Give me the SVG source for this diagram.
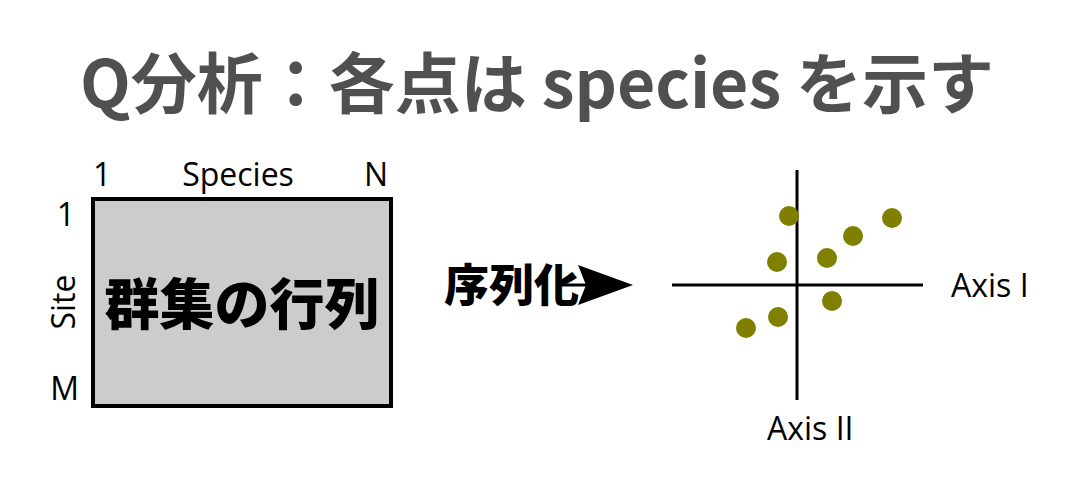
<svg xmlns="http://www.w3.org/2000/svg" width="1076" height="492" viewBox="0 0 1076 492">
<style>
.lbl{font-family:"Open Sans","Noto Sans",sans-serif;font-size:32px;fill:#000}
.dot{fill:#808000}
.ax{stroke:#000;stroke-width:3}
</style>
<rect width="1076" height="492" fill="#fff"/>
<text id="title" x="537" y="108" text-anchor="middle" font-family="'Noto Sans CJK JP',sans-serif" font-weight="bold" font-size="66" fill="#505050">Q分析：各点は species を示す</text>
<g id="matrix">
<rect x="93" y="199" width="298" height="207" fill="#cccccc" stroke="#000" stroke-width="4"/>
<text x="242" y="324" text-anchor="middle" font-family="'Noto Sans CJK JP',sans-serif" font-weight="900" font-size="55" fill="#000">群集の行列</text>
<text class="lbl" x="93" y="186">1</text>
<text class="lbl" x="238" y="186" text-anchor="middle">Species</text>
<text class="lbl" x="376" y="186" text-anchor="middle">N</text>
<text class="lbl" x="75" y="226" text-anchor="end">1</text>
<text class="lbl" x="79" y="400" text-anchor="end">M</text>
<text class="lbl" transform="translate(75,302) rotate(-90)" text-anchor="middle">Site</text>
</g>
<g id="connectors">
<line x1="560" y1="285" x2="600" y2="285" stroke="#000" stroke-width="3"/>
<polygon points="578,265 633,285 578,305 586,285" fill="#000"/>
</g>
<g id="seriation">
<text x="444" y="302" font-family="'Noto Sans CJK JP',sans-serif" font-weight="900" font-size="45" fill="#000">序列化</text>
</g>
<g id="plot">
<line class="ax" x1="672" y1="285" x2="923" y2="285"/>
<line class="ax" x1="797" y1="170" x2="797" y2="400"/>
<circle class="dot" cx="789" cy="216" r="10"/>
<circle class="dot" cx="892" cy="218" r="10"/>
<circle class="dot" cx="853" cy="236" r="10"/>
<circle class="dot" cx="777" cy="262" r="10"/>
<circle class="dot" cx="827" cy="258" r="10"/>
<circle class="dot" cx="832" cy="301" r="10"/>
<circle class="dot" cx="778" cy="317" r="10"/>
<circle class="dot" cx="746" cy="328" r="10"/>
<text class="lbl" x="951" y="297">Axis I</text>
<text class="lbl" x="767" y="440">Axis II</text>
</g>
</svg>
